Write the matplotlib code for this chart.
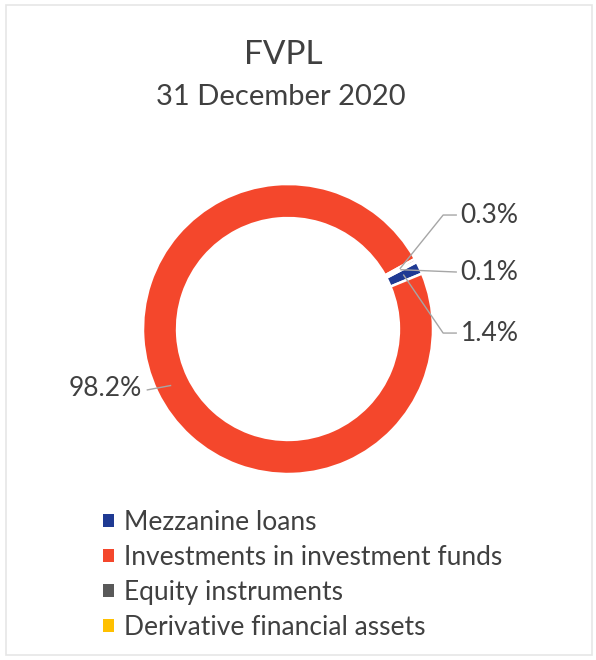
import numpy as np
import matplotlib
matplotlib.use("Agg")
import matplotlib.pyplot as plt
from matplotlib.patches import Rectangle

# -- Data --
CATEGORIES = [
    "Mezzanine loans",
    "Investments in investment funds",
    "Equity instruments",
    "Derivative financial assets",
]
SHARES = [1.4, 98.2, 0.3, 0.1]
LABELS = ["1.4%", "98.2%", "0.3%", "0.1%"]

COLORS = ["#1F3A93", "#F4472C", "#595959", "#FFC000"]
TEXT_COLOR = "#404040"
LINE_COLOR = "#A6A6A6"

plt.rcParams["font.family"] = ["Lato", "DejaVu Sans"]

W, H = 596, 660
fig = plt.figure(figsize=(W / 100, H / 100), dpi=100)

# faint frame of the scanned image
fig.patches.append(Rectangle((6 / W, 5 / H), 586 / W, 650 / H, transform=fig.transFigure,
                             fill=False, edgecolor="#E6E6E6", linewidth=1.2))

fig.text(283 / W, 1 - 55 / H, "FVPL", ha="center", va="center", fontsize=24, color=TEXT_COLOR)
fig.text(281 / W, 1 - 97 / H, "31 December 2020", ha="center", va="center", fontsize=21, color=TEXT_COLOR)

# donut axes: center (288, 329) px, outer radius 145 px
cx, cy, r = 288, 329, 145
ax = fig.add_axes([(cx - r) / W, 1 - (cy + r) / H, 2 * r / W, 2 * r / H])
wedges, _ = ax.pie(
    SHARES, colors=COLORS, startangle=27.5, counterclock=False, radius=1,
    wedgeprops=dict(width=0.235, edgecolor="white", linewidth=1.8),
)
ax.set_xlim(-1, 1)
ax.set_ylim(-1, 1)
ax.set_aspect("equal")
ax.axis("off")


def wedge_point(w, rad=0.88):
    ang = np.deg2rad((w.theta1 + w.theta2) / 2)
    return rad * np.cos(ang), rad * np.sin(ang)


# label layout: (elbow x, text y) for right-side labels, in axes data units
right_labels = {2: (1.07, 0.786), 3: (None, 0.393), 0: (1.07, -0.028)}
for i, (ex, ty) in right_labels.items():
    px, py = wedge_point(wedges[i])
    if ex is None:
        xs, ys = [px, 1.16], [py, ty]
    else:
        xs, ys = [px, ex, 1.16], [py, ty, ty]
    ax.plot(xs, ys, color=LINE_COLOR, linewidth=1.0, clip_on=False)
    ax.text(1.19, ty, LABELS[i], ha="left", va="center", fontsize=19, color=TEXT_COLOR)

# big slice label on the left
ax.plot([-0.97, -0.81], [-0.42, -0.39], color=LINE_COLOR, linewidth=1.0, clip_on=False)
ax.text(-1.01, -0.41, LABELS[1], ha="right", va="center", fontsize=19, color=TEXT_COLOR)

leg = fig.legend(
    wedges, CATEGORIES, loc="upper left", bbox_to_anchor=(103 / W, 1 - 510 / H),
    frameon=False, fontsize=19, handlelength=0.4, handleheight=0.4,
    handletextpad=0.4, labelspacing=0.38, borderaxespad=0, borderpad=0,
)
for t in leg.get_texts():
    t.set_color(TEXT_COLOR)
for h in leg.legend_handles:
    h.set_edgecolor("none")

fig.savefig("out.png", dpi=100, facecolor="white")
